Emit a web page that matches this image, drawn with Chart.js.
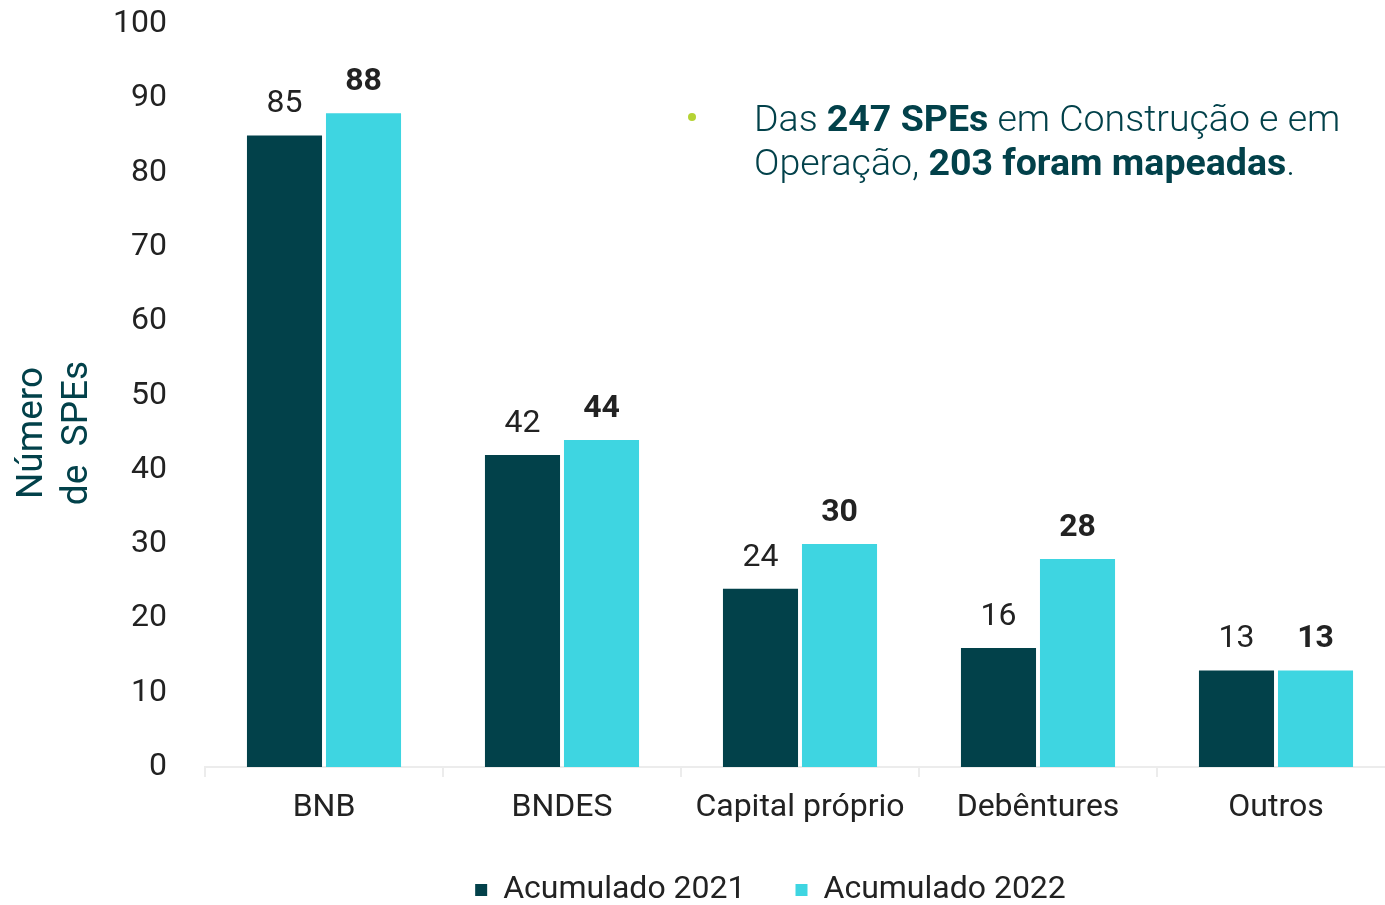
<!DOCTYPE html>
<html>
<head>
<meta charset="utf-8">
<script src="https://cdn.jsdelivr.net/npm/chart.js@4.4.1/dist/chart.umd.min.js"></script>
<style>
  html, body { margin: 0; padding: 0; background: #fff; overflow: hidden; }
  #wrap { position: relative; width: 1400px; height: 905px; }
</style>
</head>
<body>
<div id="wrap"><canvas id="fontesChart"></canvas></div>
<script>
// setup
var categories = ['BNB', 'BNDES', 'Capital próprio', 'Debêntures', 'Outros'];
var acumulado2021 = [85, 42, 24, 16, 13];
var acumulado2022 = [88, 44, 30, 28, 13];
var yTicks = [0, 10, 20, 30, 40, 50, 60, 70, 80, 90, 100];
var yTitulo = ['Número', 'de  SPEs'];

var corEscura = '#02414a';
var corClara = '#3ed5e1';
var corTexto = '#222222';

var data = {
    labels: categories,
    datasets: [{
        label: 'Acumulado 2021',
        data: acumulado2021,
        backgroundColor: corEscura,
        borderWidth: 0,
        categoryPercentage: 0.664,
        barPercentage: 0.95,
    }, {
        label: 'Acumulado 2022',
        data: acumulado2022,
        backgroundColor: corClara,
        borderWidth: 0,
        categoryPercentage: 0.664,
        barPercentage: 0.95,
    }]
};

// numbers above the bars, 2022 in bold
var barValues = {
    id: 'barValues',
    afterDatasetsDraw(chart) {
        const { ctx } = chart;
        ctx.save();
        ctx.textAlign = 'center';
        ctx.textBaseline = 'alphabetic';
        chart.data.datasets.forEach((ds, i) => {
            const meta = chart.getDatasetMeta(i);
            ctx.font = (i === 1 ? 'bold ' : '') + '32px Roboto';
            ctx.fillStyle = corTexto;
            meta.data.forEach((bar, j) => {
                ctx.fillText(ds.data[j], bar.x, bar.y - 23);
            });
        });
        ctx.restore();
    }
};

// y axis title, sits a bit below the middle in the original
var tituloY = {
    id: 'tituloY',
    afterDraw(chart) {
        const { ctx } = chart;
        ctx.save();
        ctx.fillStyle = corEscura;
        ctx.font = '37px Roboto';
        ctx.textAlign = 'center';
        ctx.textBaseline = 'middle';
        yTitulo.forEach((txt, n) => {
            ctx.save();
            ctx.translate(33 + n * 45, 433);
            ctx.rotate(-Math.PI / 2);
            ctx.fillText(txt, 0, 0);
            ctx.restore();
        });
        ctx.restore();
    }
};

// the note in the top right corner
var nota = {
    id: 'nota',
    afterDraw(chart) {
        const { ctx } = chart;
        ctx.save();
        ctx.fillStyle = '#b5d334';
        ctx.beginPath();
        ctx.arc(692, 117, 4, 0, Math.PI * 2);
        ctx.fill();

        const linhas = [
            [['Das ', false], ['247 SPEs', true], [' em Construção e em', false]],
            [['Operação, ', false], ['203 foram mapeadas', true], ['.', false]]
        ];
        ctx.fillStyle = corEscura;
        ctx.textBaseline = 'alphabetic';
        linhas.forEach((partes, n) => {
            let x = 754;
            const y = 131 + n * 44;
            partes.forEach(([txt, bold]) => {
                ctx.font = (bold ? 'bold ' : '300 ') + '37.5px Roboto';
                ctx.fillText(txt, x, y);
                x += ctx.measureText(txt).width;
            });
        });
        ctx.restore();
    }
};

// move the legend a bit to the right, like the original
var legendShift = {
    id: 'legendShift',
    afterLayout(chart) {
        chart.legend.left += 73;
        chart.legend.right += 73;
    }
};

// config
var config = {
    type: 'bar',
    data,
    options: {
        responsive: true,
        maintainAspectRatio: false,
        animation: false,
        layout: {
            padding: { top: 24, right: 5, bottom: -11, left: 0 }
        },
        scales: {
            x: {
                afterFit(scale) {
                    scale.height = 57;
                },
                grid: {
                    display: true,
                    drawOnChartArea: false,
                    offset: true,
                    color: '#ececec',
                    lineWidth: 2,
                    tickLength: 10,
                },
                border: { color: '#ececec', width: 2 },
                ticks: {
                    color: corTexto,
                    font: { family: 'Roboto', size: 32 },
                    padding: 12,
                }
            },
            y: {
                min: 0,
                max: 100,
                afterBuildTicks(scale) {
                    scale.ticks = yTicks.map(v => ({ value: v }));
                },
                afterFit(scale) {
                    scale.width = 205;
                    scale.paddingTop = 0;
                    scale.paddingBottom = 0;
                },
                grid: { display: false },
                border: { display: false },
                ticks: {
                    color: corTexto,
                    font: { family: 'Roboto', size: 32 },
                    padding: 30,
                }
            }
        },
        plugins: {
            legend: {
                position: 'bottom',
                labels: {
                    boxWidth: 12,
                    boxHeight: 12,
                    color: corTexto,
                    font: { family: 'Roboto', size: 32 },
                    padding: 50,
                }
            },
            tooltip: { enabled: false }
        }
    },
    plugins: [barValues, tituloY, nota, legendShift]
};

// render init block
const fontesChart = new Chart(document.getElementById('fontesChart'), config);
</script>
</body>
</html>
